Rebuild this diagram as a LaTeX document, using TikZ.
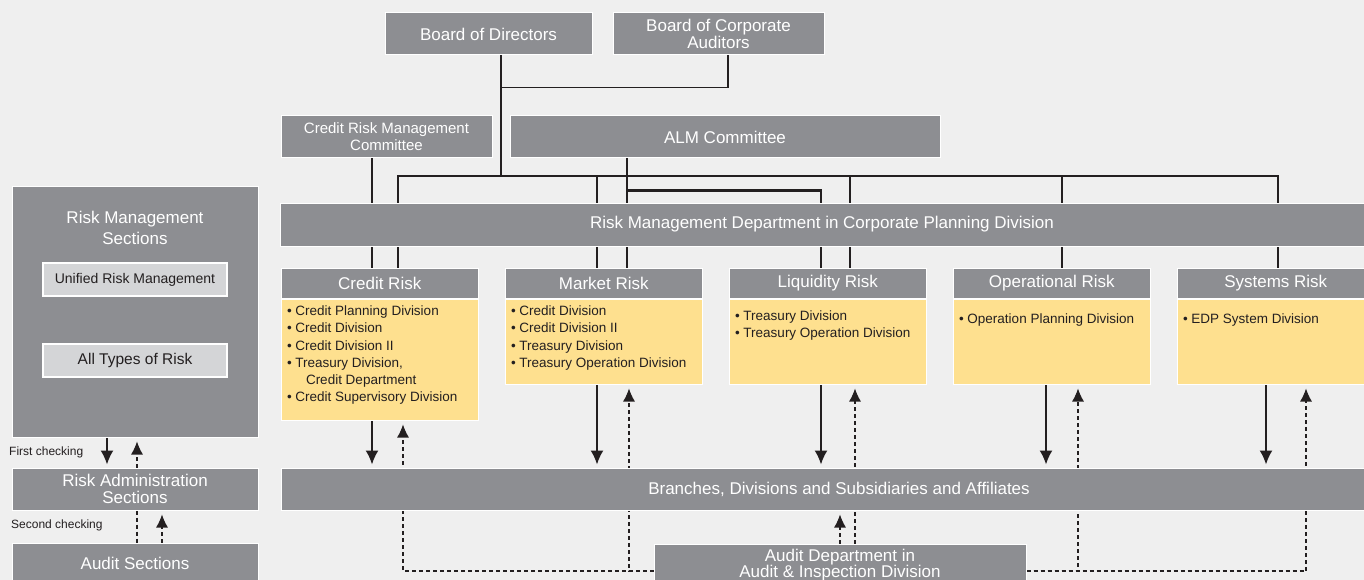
\documentclass[tikz,border=0pt]{standalone}
\usepackage{fontspec}
\setmainfont{Liberation Sans}
\usepackage{tikz}
\usetikzlibrary{positioning,arrows.meta}
\definecolor{boxgray}{HTML}{8D8E92}
\definecolor{panelgray}{HTML}{D4D5D7}
\definecolor{bggray}{HTML}{EFEFEF}
\definecolor{listyellow}{HTML}{FEE08F}
\definecolor{lnc}{HTML}{231F20}
\pgfdeclarelayer{background}
\pgfsetlayers{background,main}

\begin{document}
\begin{tikzpicture}[x=1pt, y=-1pt,
        box/.style={rectangle, draw=white, line width=1pt, fill=boxgray, text=white, align=center, inner sep=0pt, font=\fontsize{17}{16.5}\selectfont},
        hd/.style={box, minimum width=197.5, minimum height=30},
        ybox/.style={rectangle, draw=white, line width=1pt, fill=listyellow, text=lnc, minimum width=197.5, inner xsep=6pt, inner ysep=7pt, font=\fontsize{13.5}{17.2}\selectfont},
        lbox/.style={rectangle, draw=white, line width=2pt, fill=panelgray, text=lnc, minimum width=184, minimum height=33, font=\fontsize{14}{16}\selectfont},
        note/.style={text=lnc, inner sep=0pt, font=\fontsize{12}{14}\selectfont},
        ln/.style={draw=lnc, line width=1.2pt},
        tk/.style={draw=lnc, line width=2.4pt},
        dsh/.style={draw=lnc, line width=1.1pt, dash pattern=on 4pt off 3pt},
        arr/.style={draw=lnc, line width=1.8pt, -{Latex[length=14pt,width=13pt]}, shorten >=3pt},
        darr/.style={dsh, -{Latex[length=13pt,width=12pt]}, shorten >=4pt}]
        \useasboundingbox (0,0) rectangle (1364,580);
        \node[box, minimum width=207, minimum height=42] (bod) at (488.5,34) {Board of Directors};
        \node[box, minimum width=211, minimum height=42] (bca) at (718.5,34) {Board of Corporate\\Auditors};
        \node[box, minimum width=211, minimum height=42, font=\fontsize{15}{17}\selectfont] (crmc) at (386.5,137) {Credit Risk Management\\Committee};
        \node[box, minimum width=430, minimum height=42] (alm) at (725,137) {ALM Committee};
        \node[box, minimum width=1084, minimum height=43] (rmd) at (822,224.5) {Risk Management Department in Corporate Planning Division};

        \node[hd] (cr) at (379.75,283) {Credit Risk};
        \node[hd, right=25.5pt of cr] (mr) {Market Risk};
        \node[hd, right=25.5pt of mr] (lr) {Liquidity Risk};
        \node[hd, right=25.5pt of lr] (opr) {Operational Risk};
        \node[hd, right=25.5pt of opr] (sr) {Systems Risk};
        \node[ybox, below=0pt of cr] (cry) {\parbox[t][107pt][t]{185.5pt}{\textbullet~Credit Planning Division\\
            \textbullet~Credit Division\\
            \textbullet~Credit Division II\\
            \textbullet~Treasury Division,\\
            \hspace*{19pt}Credit Department\\
            \textbullet~Credit Supervisory Division}};
        \node[ybox, below=0pt of mr] (mry) {\parbox[t][71pt][t]{185.5pt}{\textbullet~Credit Division\\
            \textbullet~Credit Division II\\
            \textbullet~Treasury Division\\
            \textbullet~Treasury Operation Division}};
        \node[ybox, below=0pt of lr] (lry) {\parbox[t][71pt][t]{185.5pt}{\rule{0pt}{14pt}\textbullet~Treasury Division\\
            \textbullet~Treasury Operation Division}};
        \node[ybox, below=0pt of opr] (opry) {\parbox[t][71pt][t]{185.5pt}{\rule{0pt}{17pt}\textbullet~Operation Planning Division}};
        \node[ybox, below=0pt of sr] (sry) {\parbox[t][71pt][t]{185.5pt}{\rule{0pt}{17pt}\textbullet~EDP System Division}};

        \node[box, minimum width=1116, minimum height=42] (br) at (839,489) {Branches, Divisions and Subsidiaries and Affiliates};
        \node[box, minimum width=372, minimum height=42] (aud) at (840,565) {Audit Department in\\Audit \& Inspection Division};

        \node[box, minimum width=246, minimum height=250, label={[text=white, font=\fontsize{17}{21}\selectfont, align=center, anchor=north, inner sep=0pt, yshift=-24pt]north:Risk Management\\Sections}] (rms) at (135,312) {};
        \node[lbox] (urm) at (135,279.5) {Unified Risk Management};
        \node[lbox, font=\fontsize{15.5}{17}\selectfont] (atr) at (135,360.5) {All Types of Risk};
        \node[box, minimum width=246, minimum height=42] (ras) at (135,489) {Risk Administration\\Sections};
        \node[box, minimum width=246, minimum height=40] (aus) at (135,563) {Audit Sections};
        \node[note, anchor=west] (fc) at (9,452) {First checking};
        \node[note, anchor=west] (sc) at (11,525) {Second checking};

        \begin{pgfonlayer}{background}
        \fill[bggray] (0,0) rectangle (1364,580);
        \coordinate (j) at (501,176);
        \draw[ln] ([xshift=12.5pt]bod.south) -- (j);
        \draw[ln] ([xshift=9.5pt]bca.south) -- ++(0,32) -| ([xshift=12.5pt]bod.south);
        \draw[ln] (j) -| ([xshift=18.25pt]cr.north);
        \draw[ln] (j) -| ([xshift=-6.75pt]mr.north);
        \draw[ln] (j) -| ([xshift=22.25pt]lr.north);
        \draw[ln] (j) -| ([xshift=10.25pt]opr.north);
        \draw[ln] (j) -| ([xshift=2.25pt]sr.north);
        \draw[tk] ([xshift=-14.5pt]crmc.south) -- ([xshift=-14.5pt]crmc.south |- cr.north);
        \draw[tk] ([xshift=-98pt]alm.south) -- ([xshift=-98pt]alm.south |- mr.north);
        \draw[tk] ([xshift=-98pt]alm.south) ++(0,32) -| ([xshift=-6.75pt]lr.north);

        \draw[arr] ([xshift=-7.75pt]cry.south) -- ([xshift=-7.75pt]cry.south |- br.north);
        \draw[arr] ([xshift=-6.75pt]mry.south) -- ([xshift=-6.75pt]mry.south |- br.north);
        \draw[arr] ([xshift=-6.75pt]lry.south) -- ([xshift=-6.75pt]lry.south |- br.north);
        \draw[arr] ([xshift=-5.75pt]opry.south) -- ([xshift=-5.75pt]opry.south |- br.north);
        \draw[arr] ([xshift=-9.75pt]sry.south) -- ([xshift=-9.75pt]sry.south |- br.north);
        \draw[darr] ([yshift=-6pt]aud.west) -| ([xshift=23.25pt]cry.south);
        \draw[darr] ([yshift=-6pt]aud.west) -| ([xshift=25.25pt]mry.south);
        \draw[darr] ([xshift=15pt]aud.north) -- ([xshift=15pt]aud.north |- lry.south);
        \draw[darr] ([yshift=-6pt]aud.east) -| ([xshift=26.25pt]opry.south);
        \draw[darr] ([yshift=-6pt]aud.east) -| ([xshift=30.25pt]sry.south);
        \draw[darr] (aud.north) -- (aud.north |- br.south);

        \draw[arr] ([xshift=-28pt]rms.south) -- ([xshift=-28pt]rms.south |- ras.north);
        \draw[darr] ([xshift=2pt]ras.north) -- ([xshift=2pt]ras.north |- rms.south);
        \draw[dsh] ([xshift=2pt]ras.south) -- ([xshift=2pt]ras.south |- aus.north);
        \draw[darr] ([xshift=27pt]aus.north) -- ([xshift=27pt]aus.north |- ras.south);
        \end{pgfonlayer}
    \end{tikzpicture}
\end{document}
